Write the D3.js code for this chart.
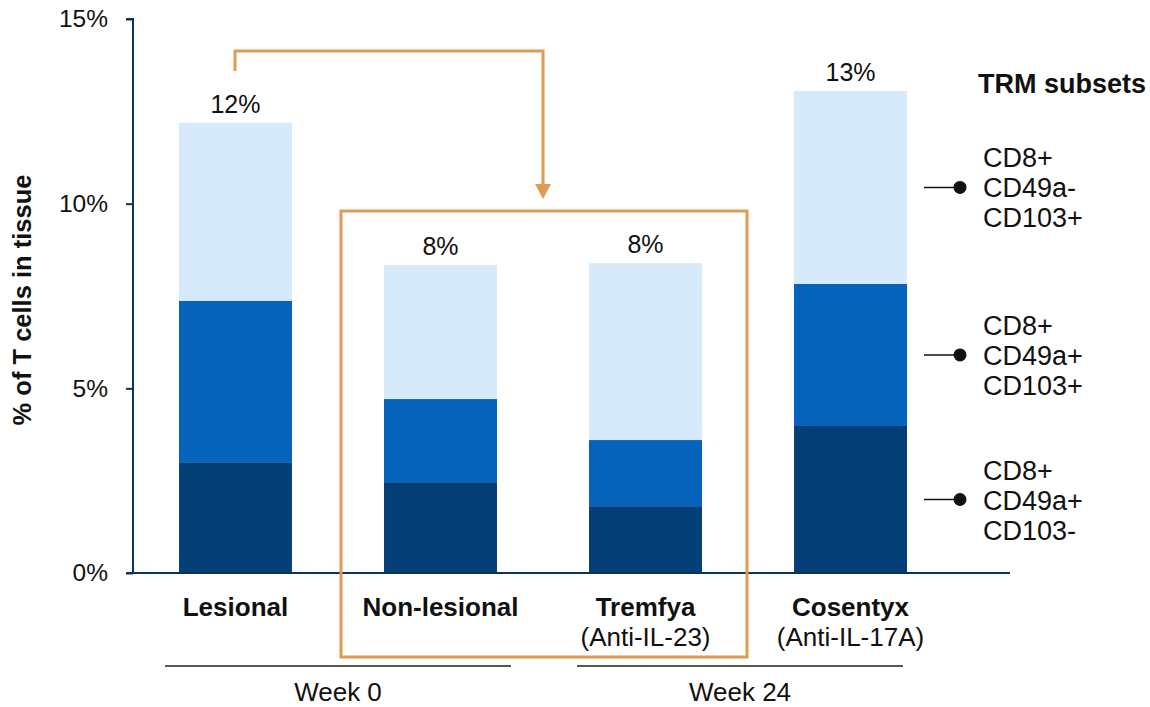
<!DOCTYPE html>
<html>
<head>
<meta charset="utf-8">
<script src="https://cdn.jsdelivr.net/npm/d3@7"></script>
<style>
  body { margin: 0; background: #fff; }
  text { font-family: "Liberation Sans", Arial, sans-serif; fill: #111; }
</style>
</head>
<body>
<div id="chart"></div>
<script>
// Data
let categories = ["Lesional", "Non-lesional", "Tremfya", "Cosentyx"];
let subtitles = ["", "", "(Anti-IL-23)", "(Anti-IL-17A)"];
let darkVals = [3.0, 2.46, 1.81, 3.98];   // CD8+ CD49a+ CD103-
let midVals = [4.37, 2.25, 1.79, 3.85];   // CD8+ CD49a+ CD103+
let lightVals = [4.82, 3.63, 4.79, 5.22]; // CD8+ CD49a- CD103+
let totalLabels = ["12%", "8%", "8%", "13%"];
let yTicks = [0, 5, 10, 15];
let subsetNames = ["CD8+ CD49a- CD103+", "CD8+ CD49a+ CD103+", "CD8+ CD49a+ CD103-"];
let weeks = ["Week 0", "Week 24"];

let colors = { dark: "#043f78", mid: "#0563bb", light: "#d6eafb" };

let svg = d3.select("#chart").append("svg")
  .attr("width", 1150)
  .attr("height", 707);

let y = d3.scaleLinear().domain([0, 15]).range([573, 19]);
let x = d3.scaleBand().domain(categories).range([179, 907]).paddingInner(0.449).paddingOuter(0);

// stacked data
let rows = categories.map(function (c, i) {
  return { cat: c, dark: darkVals[i], mid: midVals[i], light: lightVals[i] };
});
let stack = d3.stack().keys(["dark", "mid", "light"])(rows);

svg.selectAll("g.layer")
  .data(stack)
  .enter().append("g")
  .attr("class", "layer")
  .attr("fill", function (d) { return colors[d.key]; })
  .selectAll("rect")
  .data(function (d) { return d; })
  .enter().append("rect")
  .attr("x", function (d) { return x(d.data.cat); })
  .attr("width", x.bandwidth())
  .attr("y", function (d) { return y(d[1]); })
  .attr("height", function (d) { return y(d[0]) - y(d[1]); });

// total labels
svg.selectAll("text.total")
  .data(rows)
  .enter().append("text")
  .attr("class", "total")
  .attr("x", function (d) { return x(d.cat) + x.bandwidth() / 2; })
  .attr("y", function (d) { return y(d.dark + d.mid + d.light) - 10; })
  .attr("text-anchor", "middle")
  .style("font-size", "25px")
  .text(function (d, i) { return totalLabels[i]; });

// y axis
let yAxis = svg.append("g")
  .attr("transform", "translate(133,0)")
  .call(d3.axisLeft(y).tickValues(yTicks).tickSize(7).tickPadding(18)
    .tickFormat(function (d) { return d + "%"; }));
yAxis.selectAll("path, line").attr("stroke", "#0a3360").attr("stroke-width", 2);
yAxis.select(".domain").attr("d", "M-7,19H0V573");
yAxis.selectAll("text").style("font-size", "24.5px").style("font-family", "Liberation Sans, Arial").attr("fill", "#222");

// x baseline
svg.append("line")
  .attr("x1", 126).attr("x2", 1010)
  .attr("y1", y(0)).attr("y2", y(0))
  .attr("stroke", "#0a3360").attr("stroke-width", 2);

// y title
svg.append("text")
  .attr("transform", "translate(31,300) rotate(-90)")
  .attr("text-anchor", "middle")
  .style("font-size", "25.5px")
  .style("font-weight", "bold")
  .text("% of T cells in tissue");

// category labels
svg.selectAll("text.cat")
  .data(categories)
  .enter().append("text")
  .attr("class", "cat")
  .attr("x", function (d) { return x(d) + x.bandwidth() / 2; })
  .attr("y", 616)
  .attr("text-anchor", "middle")
  .style("font-size", "26px")
  .style("font-weight", "bold")
  .text(function (d) { return d; });

svg.selectAll("text.sub")
  .data(subtitles)
  .enter().append("text")
  .attr("class", "sub")
  .attr("x", function (d, i) { return x(categories[i]) + x.bandwidth() / 2; })
  .attr("y", 646)
  .attr("text-anchor", "middle")
  .style("font-size", "26px")
  .text(function (d) { return d; });

// week brackets
let weekSpans = [[165, 511], [577, 903]];
weekSpans.forEach(function (s, i) {
  svg.append("line")
    .attr("x1", s[0]).attr("x2", s[1])
    .attr("y1", 666).attr("y2", 666)
    .attr("stroke", "#222").attr("stroke-width", 1.3);
  svg.append("text")
    .attr("x", (s[0] + s[1]) / 2)
    .attr("y", 701)
    .attr("text-anchor", "middle")
    .style("font-size", "26px")
    .text(weeks[i]);
});

// orange highlight box + arrow
let orange = "#df9a55";
svg.append("rect")
  .attr("x", 341).attr("y", 211)
  .attr("width", 406).attr("height", 446)
  .attr("fill", "none").attr("stroke", orange).attr("stroke-width", 3);

svg.append("path")
  .attr("d", "M235,71V51H543V186")
  .attr("fill", "none").attr("stroke", orange).attr("stroke-width", 3);
svg.append("path")
  .attr("d", "M535,184H551L543,199Z")
  .attr("fill", orange);

// legend
let cosRow = rows[3];
let legendY = [
  (y(cosRow.dark + cosRow.mid) + y(cosRow.dark + cosRow.mid + cosRow.light)) / 2,
  (y(cosRow.dark) + y(cosRow.dark + cosRow.mid)) / 2,
  (y(0) + y(cosRow.dark)) / 2
];

svg.append("text")
  .attr("x", 978).attr("y", 93)
  .style("font-size", "27px")
  .style("font-weight", "bold")
  .text("TRM subsets");

subsetNames.forEach(function (name, i) {
  let ly = legendY[i];
  svg.append("line")
    .attr("x1", 924).attr("x2", 958)
    .attr("y1", ly).attr("y2", ly)
    .attr("stroke", "#111").attr("stroke-width", 1.5);
  svg.append("circle")
    .attr("cx", 960).attr("cy", ly).attr("r", 6.5)
    .attr("fill", "#111");
  let t = svg.append("text")
    .attr("x", 983).attr("y", ly - 20)
    .style("font-size", "27px");
  name.split(" ").forEach(function (part, j) {
    t.append("tspan")
      .attr("x", 983)
      .attr("dy", j === 0 ? 0 : 30)
      .text(part);
  });
});
</script>
</body>
</html>
